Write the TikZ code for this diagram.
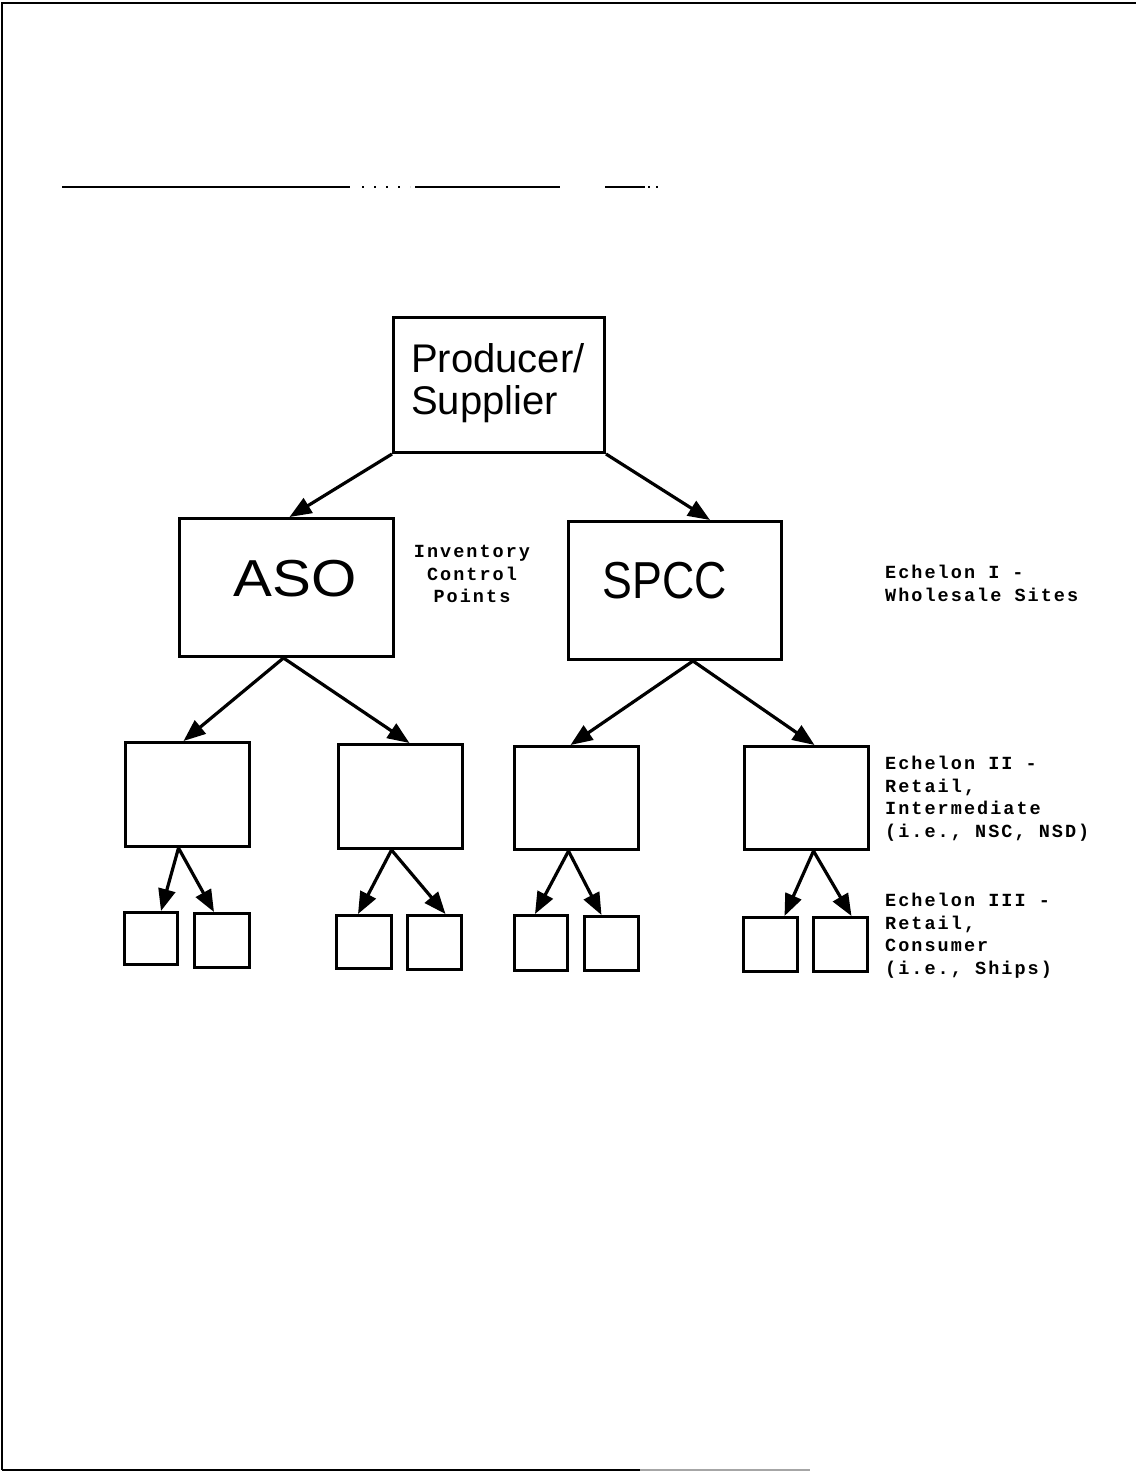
\documentclass[tikz,border=0pt]{standalone}
\usepackage{fontspec}
\newfontfamily\helv{Liberation Sans}
\newfontfamily\typew[LetterSpace=11]{Liberation Mono}
\usetikzlibrary{arrows.meta,calc}
\begin{document}
\begin{tikzpicture}[x=1pt,y=-1pt,
  box/.style={draw,line width=3pt,inner sep=0pt,anchor=north west},
  big/.style={inner sep=0pt,font=\helv\fontsize{52}{60}\selectfont},
  arr/.style={line width=3.2pt,-{Triangle[length=22pt,width=17pt]}},
  lab/.style={font=\typew\bfseries\fontsize{18.5}{22.6}\selectfont,align=left,inner sep=0pt,anchor=north west},
  page/.style={line width=2.2pt}]
\useasboundingbox (0,0) rectangle (1136,1473);
\fill[white] (0,0) rectangle (1136,1473);
% page frame
\draw[page] (2,1470) -- (2,3) -- (1136,3);
\draw[page] (2,1470) -- (640,1470);
\draw[page,black!35] (640,1470) -- (810,1470);
% faint ruled line
\draw[line width=1.3pt] (62,187) -- (350,187);
\draw[line width=1.3pt,dash pattern=on 2pt off 10pt] (362,187) -- (410,187);
\draw[line width=1.3pt] (415,187) -- (560,187);
\draw[line width=1.3pt] (605,187) -- (645,187);
\draw[line width=1.3pt,dash pattern=on 2pt off 6pt] (648,187) -- (662,187);
% top
\node[box,minimum width=211pt,minimum height=135pt] (p) at (392,316) {};
\node[inner sep=0pt,align=left,anchor=north west,
  font=\helv\fontsize{40}{42}\selectfont] (pt) at (411,343) {Producer/\\Supplier};
% echelon I
\node[box,minimum width=214pt,minimum height=138pt] (aso) at (178,517) {};
\node[big] (asot) at (295,579) {\scalebox{1.12}[1]{ASO}};
\node[box,minimum width=213pt,minimum height=138pt] (spcc) at (567,520) {};
\node[big] (spcct) at (665,581) {\scalebox{0.86}[1]{SPCC}};
% echelon II
\node[box,minimum width=124pt,minimum height=104pt] (e2a) at (124,741) {};
\node[box,minimum width=124pt,minimum height=104pt] (e2b) at (337,743) {};
\node[box,minimum width=124pt,minimum height=103pt] (e2c) at (513,745) {};
\node[box,minimum width=124pt,minimum height=103pt] (e2d) at (743,745) {};
% echelon III
\node[box,minimum width=53pt,minimum height=52pt] (e3a) at (123,911) {};
\node[box,minimum width=55pt,minimum height=54pt] (e3b) at (193,912) {};
\node[box,minimum width=55pt,minimum height=53pt] (e3c) at (335,914) {};
\node[box,minimum width=54pt,minimum height=54pt] (e3d) at (406,914) {};
\node[box,minimum width=53pt,minimum height=55pt] (e3e) at (513,914) {};
\node[box,minimum width=54pt,minimum height=54pt] (e3f) at (583,915) {};
\node[box,minimum width=54pt,minimum height=54pt] (e3g) at (742,916) {};
\node[box,minimum width=54pt,minimum height=54pt] (e3h) at (812,916) {};
% arrows
\draw[arr] (p.south west) -- ($(aso.north)+(3,0)$);
\draw[arr] (p.south east) -- ($(spcc.north)+(35,0)$);
\draw[arr] ($(aso.south)+(-3,0)$) -- ($(e2a.north)+(-4,0)$);
\draw[arr] ($(aso.south)+(-3,0)$) -- ($(e2b.north)+(9,0)$);
\draw[arr] ($(spcc.south)+(18,0)$) -- ($(e2c.north)+(-6,0)$);
\draw[arr] ($(spcc.south)+(18,0)$) -- ($(e2d.north)+(8,0)$);
\draw[arr] ($(e2a.south)+(-9,0)$) -- ($(e3a.north)+(10,0)$);
\draw[arr] ($(e2a.south)+(-9,0)$) -- ($(e3b.north)+(-8,0)$);
\draw[arr] ($(e2b.south)+(-9,0)$) -- ($(e3c.north)+(-6,0)$);
\draw[arr] ($(e2b.south)+(-9,0)$) -- ($(e3d.north)+(11,0)$);
\draw[arr] ($(e2c.south)+(-8,0)$) -- ($(e3e.north)+(-6,0)$);
\draw[arr] ($(e2c.south)+(-8,0)$) -- ($(e3f.north)+(-10,0)$);
\draw[arr] ($(e2d.south)+(7,0)$) -- ($(e3g.north)+(14,0)$);
\draw[arr] ($(e2d.south)+(7,0)$) -- ($(e3h.north)+(11,0)$);
% labels
\node[lab,align=center,anchor=north] (icp) at (472,545) {Inventory\\Control\\Points};
\node[lab] (l1) at (885,565) {Echelon I -\\Wholesale Sites};
\node[lab] (l2) at (885,756) {Echelon II -\\Retail,\\Intermediate\\(i.e., NSC, NSD)};
\node[lab] (l3) at (885,893) {Echelon III -\\Retail,\\Consumer\\(i.e., Ships)};
\end{tikzpicture}
\end{document}
